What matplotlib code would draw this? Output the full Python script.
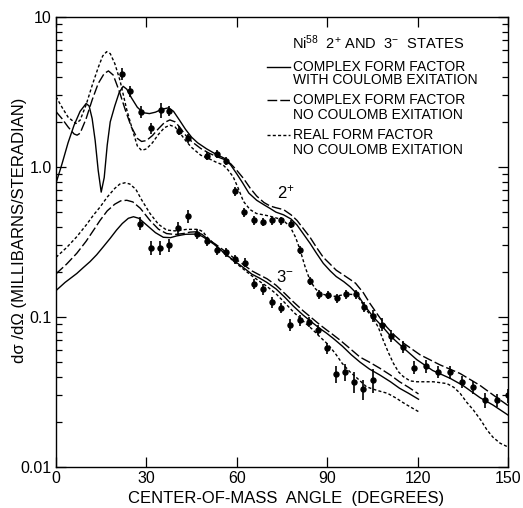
import matplotlib
matplotlib.use("Agg")
import matplotlib.pyplot as plt
from matplotlib.ticker import FixedLocator, FixedFormatter, LogLocator, NullFormatter

plt.rcParams['font.family'] = ['Liberation Sans', 'DejaVu Sans']
plt.rcParams['mathtext.fontset'] = 'custom'
plt.rcParams['mathtext.rm'] = 'Liberation Sans'
plt.rcParams['mathtext.it'] = 'Liberation Sans:italic'
plt.rcParams['mathtext.bf'] = 'Liberation Sans:bold'

# ---- measured cross sections (deg, mb/sr, fractional error) ----
ang_2p = [21.8, 24.6, 28.1, 31.4, 34.7, 37.6, 40.9, 43.9, 50.0, 53.3, 56.4, 59.4,
          62.5, 65.6, 68.7, 71.6, 74.7, 78.0, 81.0, 84.3, 87.4, 90.3, 93.2, 96.2,
          99.4, 102.3, 105.2, 108.3, 111.2, 115.0, 118.9, 122.8, 126.7, 130.8,
          134.6, 138.5, 142.4, 146.3, 150.0]
xs_2p = [4.2, 3.2, 2.34, 1.81, 2.40, 2.37, 1.75, 1.55, 1.18, 1.22, 1.10, 0.69,
         0.50, 0.44, 0.43, 0.44, 0.44, 0.42, 0.28, 0.175, 0.142, 0.14, 0.134, 0.142,
         0.142, 0.117, 0.102, 0.089, 0.075, 0.063, 0.046, 0.047, 0.043, 0.043,
         0.037, 0.034, 0.028, 0.028, 0.030]
err_2p = [0.09, 0.08, 0.09, 0.08, 0.12, 0.08, 0.07, 0.07, 0.06, 0.06, 0.06, 0.07,
          0.07, 0.07, 0.06, 0.06, 0.06, 0.06, 0.06, 0.06, 0.07, 0.06, 0.07, 0.07,
          0.07, 0.08, 0.09, 0.10, 0.09, 0.09, 0.10, 0.10, 0.09, 0.10,
          0.09, 0.10, 0.12, 0.10, 0.11]

ang_3m = [27.9, 31.4, 34.5, 37.6, 40.6, 43.7, 46.9, 50.0, 53.3, 56.4, 59.4, 62.6,
          65.6, 68.8, 71.6, 74.7, 77.8, 81.0, 84.0, 86.9, 89.9, 92.9, 95.9, 98.9,
          102.0, 105.1]
xs_3m = [0.42, 0.29, 0.29, 0.30, 0.39, 0.47, 0.36, 0.32, 0.28, 0.27, 0.243, 0.23,
         0.167, 0.153, 0.125, 0.115, 0.0885, 0.095, 0.093, 0.082, 0.062, 0.042,
         0.043, 0.037, 0.033, 0.038]
err_3m = [0.10, 0.10, 0.10, 0.10, 0.10, 0.10, 0.08, 0.07, 0.07, 0.07, 0.07, 0.07,
          0.08, 0.08, 0.08, 0.08, 0.09, 0.08, 0.08, 0.08, 0.09, 0.13, 0.13, 0.16,
          0.15, 0.18]

# ---- DWBA curves, 2+ state ----
th_2p_cc = [0, 2, 4, 6, 8, 10, 11, 12, 13, 14, 15, 16, 17, 18, 19.5, 21, 22.3, 23.5,
            25, 27, 29, 31, 33, 35, 37.3, 39, 41, 43, 45, 47, 50, 53, 56, 58, 60, 62,
            64, 66.6, 69, 71, 73, 75.5, 78, 80, 82, 84.3, 86.5, 88.7, 91, 93, 95.5,
            97.6, 100, 102.3, 105.3, 108.4, 111.2, 115, 119.7, 125, 130.8, 135,
            140.7, 145, 150]
cs_2p_cc = [0.78, 1.05, 1.45, 1.9, 2.35, 2.65, 2.55, 2.1, 1.5, 0.95, 0.68, 0.85, 1.4,
            2.0, 2.55, 3.15, 3.45, 3.3, 2.9, 2.5, 2.3, 2.27, 2.32, 2.42, 2.48, 2.35,
            2.05, 1.78, 1.58, 1.45, 1.32, 1.22, 1.14, 1.03, 0.9, 0.78, 0.67, 0.60,
            0.56, 0.53, 0.5, 0.48, 0.45, 0.41, 0.36, 0.31, 0.265, 0.228, 0.203,
            0.186, 0.172, 0.159, 0.142, 0.12, 0.10, 0.086, 0.074, 0.063, 0.052,
            0.044, 0.039, 0.035, 0.029, 0.0259, 0.0222]

th_2p_cn = [0, 2, 4, 6, 7, 8, 10, 12, 14, 16, 17.4, 19, 21, 23, 25, 27, 28.4, 30, 32,
            34, 36, 37.8, 39.5, 41, 43, 45, 48, 51, 54, 56, 58, 60, 62.2, 64.5, 66.6,
            69, 71, 73, 75.5, 78, 80, 82, 84.3, 86.5, 88.7, 91, 93, 95.5, 97.6, 99.4,
            102, 104.2, 107, 109.7, 112.5, 115.3, 120.8, 127.4, 134.1, 140.7, 146.3,
            150]
cs_2p_cn = [2.34, 2.1, 1.85, 1.66, 1.63, 1.68, 2.1, 2.8, 3.6, 4.2, 4.37, 4.1, 3.2,
            2.4, 1.85, 1.55, 1.48, 1.5, 1.62, 1.8, 1.98, 2.06, 2.0, 1.85, 1.63, 1.48,
            1.33, 1.23, 1.16, 1.12, 1.05, 0.95, 0.84, 0.72, 0.64, 0.58, 0.55, 0.535,
            0.52, 0.48, 0.44, 0.39, 0.34, 0.29, 0.25, 0.225, 0.205, 0.19, 0.178,
            0.168, 0.145, 0.123, 0.102, 0.086, 0.075, 0.067, 0.056, 0.048, 0.042,
            0.035, 0.029, 0.0257]

th_2p_rn = [0, 2, 4, 6.6, 8, 10, 12, 14, 15.5, 16.8, 18, 19.5, 21.2, 23.5, 25.7, 27,
            28.4, 30, 32, 34, 36, 37.8, 39.5, 41, 43, 45, 48, 51, 53, 55.5, 57, 58.8,
            60.5, 62.2, 64.4, 66.5, 68.8, 71, 74.3, 76, 77.7, 79.5, 81, 82.7, 84.3,
            86, 87.6, 90, 92, 94, 96.5, 99.4, 101, 102.3, 104, 105.3, 107, 108.6,
            110.3, 112, 113.7, 115.3, 117.5, 119.7, 125.2, 129.7, 132, 134.1, 136.3,
            138.5, 141, 143, 145, 147.4, 150]
cs_2p_rn = [2.94, 2.5, 2.15, 1.95, 2.05, 2.6, 3.5, 4.6, 5.5, 5.87, 5.7, 4.9, 3.8,
            2.4, 1.68, 1.38, 1.29, 1.32, 1.45, 1.65, 1.83, 1.9, 1.85, 1.7, 1.5, 1.35,
            1.2, 1.13, 1.08, 1.03, 0.96, 0.86, 0.72, 0.59, 0.52, 0.49, 0.48, 0.47,
            0.45, 0.43, 0.40, 0.34, 0.28, 0.215, 0.175, 0.155, 0.144, 0.139, 0.137,
            0.139, 0.142, 0.141, 0.13, 0.117, 0.105, 0.098, 0.085, 0.070, 0.058,
            0.049, 0.043, 0.040, 0.0375, 0.037, 0.037, 0.036, 0.034, 0.031, 0.027,
            0.024, 0.0205, 0.0177, 0.0158, 0.0144, 0.0136]

# ---- DWBA curves, 3- state ----
th_3m_cc = [0, 3, 6.9, 9, 11.3, 13.5, 15.7, 18, 20.1, 22, 24, 25.7, 27.5, 30.1, 33,
            35.6, 38, 40, 43, 46.7, 48.5, 50, 53, 56, 59, 62, 65, 67.7, 70, 73, 76,
            78.8, 82, 85, 87.5, 89.8, 92, 95, 98, 100.9, 104, 107.5, 111, 114, 117,
            120.3]
cs_3m_cc = [0.15, 0.17, 0.195, 0.213, 0.234, 0.26, 0.294, 0.335, 0.38, 0.42, 0.455,
            0.466, 0.455, 0.41, 0.365, 0.34, 0.338, 0.347, 0.356, 0.357, 0.345, 0.33,
            0.30, 0.265, 0.238, 0.215, 0.193, 0.181, 0.17, 0.154, 0.135, 0.118,
            0.103, 0.092, 0.084, 0.078, 0.072, 0.064, 0.056, 0.050, 0.045, 0.041,
            0.037, 0.0335, 0.031, 0.0283]

th_3m_cn = [0, 3.5, 6.9, 10, 12.5, 14.6, 17, 19.5, 21.5, 23.5, 25.5, 28, 31.2, 34,
            36.7, 39.5, 42.2, 44.5, 46.7, 48.5, 50, 53, 56, 59, 62, 65, 67.7, 70, 73,
            76, 78.8, 82, 85, 87.5, 89.8, 92, 94.3, 97, 100.9, 104, 107.5, 111, 114,
            117, 120.3]
cs_3m_cn = [0.194, 0.225, 0.266, 0.32, 0.38, 0.44, 0.51, 0.565, 0.595, 0.60, 0.585,
            0.53, 0.44, 0.385, 0.36, 0.355, 0.36, 0.368, 0.37, 0.355, 0.335, 0.305,
            0.275, 0.248, 0.225, 0.203, 0.19, 0.18, 0.163, 0.143, 0.126, 0.11,
            0.098, 0.089, 0.082, 0.076, 0.070, 0.063, 0.054, 0.050, 0.0455, 0.041,
            0.037, 0.034, 0.0307]

th_3m_rn = [0, 3.5, 6.9, 10, 12.5, 14.6, 17, 19.5, 21.2, 22.9, 24.5, 26.5, 28.5,
            31.2, 34, 36.7, 39.5, 43.4, 47.2, 48.8, 50, 53, 56, 59, 62, 65, 67.7, 70,
            73, 76, 78.8, 82, 85, 87.5, 89.8, 91, 93, 95, 97.6, 100, 103, 105.3,
            107.5, 110, 113, 115, 117.5, 120.3]
cs_3m_rn = [0.25, 0.29, 0.343, 0.41, 0.48, 0.54, 0.63, 0.72, 0.77, 0.785, 0.77, 0.71,
            0.6, 0.49, 0.415, 0.38, 0.375, 0.384, 0.384, 0.37, 0.343, 0.30, 0.265,
            0.235, 0.21, 0.188, 0.172, 0.16, 0.143, 0.124, 0.108, 0.094, 0.083,
            0.074, 0.067, 0.063, 0.056, 0.049, 0.043, 0.039, 0.0343, 0.033, 0.032,
            0.031, 0.0287, 0.027, 0.0252, 0.0234]

x_ticks = [0, 30, 60, 90, 120, 150]
x_labels = ["0", "30", "60", "90", "120", "150"]
y_ticks = [0.01, 0.1, 1.0, 10.0]
y_labels = ["0.01", "0.1", "1.0", "10"]

legend_text = [("COMPLEX FORM FACTOR", "WITH COULOMB EXITATION"),
               ("COMPLEX FORM FACTOR", "NO COULOMB EXITATION"),
               ("REAL FORM FACTOR", "NO COULOMB EXITATION")]

W, H = 523, 508
fig = plt.figure(figsize=(W / 100, H / 100), dpi=100)
ax = fig.add_axes([56 / W, 1 - 467 / H, 452 / W, 450 / H])
ax.set_yscale('log')
ax.set_xlim(0, 150)
ax.set_ylim(0.01, 10)

styles = {
    'cc': dict(color='black', lw=1.0, ls='-'),
    'cn': dict(color='black', lw=1.0, ls=(0, (7, 2.2))),
    'rn': dict(color='black', lw=1.0, ls=(0, (2.2, 1.6))),
}

ax.plot(th_2p_cc, cs_2p_cc, **styles['cc'])
ax.plot(th_2p_cn, cs_2p_cn, **styles['cn'])
ax.plot(th_2p_rn, cs_2p_rn, **styles['rn'])
ax.plot(th_3m_cc, cs_3m_cc, **styles['cc'])
ax.plot(th_3m_cn, cs_3m_cn, **styles['cn'])
ax.plot(th_3m_rn, cs_3m_rn, **styles['rn'])

for a, v, e in ((ang_2p, xs_2p, err_2p), (ang_3m, xs_3m, err_3m)):
    yerr = [vi * ei for vi, ei in zip(v, e)]
    ax.errorbar(a, v, yerr=yerr, fmt='o', color='black', ms=3.6, elinewidth=1.2,
                capsize=0)

# axes, ticks
for s in ax.spines.values():
    s.set_linewidth(1.0)
ax.xaxis.set_major_locator(FixedLocator(x_ticks))
ax.xaxis.set_major_formatter(FixedFormatter(x_labels))
ax.yaxis.set_major_locator(FixedLocator(y_ticks))
ax.yaxis.set_major_formatter(FixedFormatter(y_labels))
ax.yaxis.set_minor_locator(LogLocator(base=10, subs=range(2, 10)))
ax.yaxis.set_minor_formatter(NullFormatter())
ax.tick_params(which='both', direction='in', top=True, right=True, width=0.9)
ax.tick_params(which='major', length=7, labelsize=11.5)
ax.tick_params(which='minor', length=4)
ax.tick_params(axis='x', pad=3)
ax.tick_params(axis='y', pad=3)

# axis titles placed in figure pixels
fig.text(286 / W, 1 - 499 / H, "CENTER-OF-MASS  ANGLE  (DEGREES)", fontsize=12,
         ha='center', va='center')
fig.text(20 / W, 1 - 230 / H, "dσ /dΩ (MILLIBARNS/STERADIAN)", fontsize=12,
         ha='center', va='center', rotation=90)


def axpos(px, py):
    return (px - 56) / 452, (467 - py) / 450


# title block and key
tx, ty = axpos(292, 43)
ax.text(tx, ty, r"Ni$^{58}$  2$^{+}$ AND  3$^{-}$  STATES", transform=ax.transAxes,
        fontsize=10.5, va='center', ha='left')
key_y = [(67, 80), (100, 115), (135, 150)]
for (l1, l2), (y1, y2), key in zip(legend_text, key_y, ['cc', 'cn', 'rn']):
    x0, yy = axpos(267, y1)
    x1, _ = axpos(290, y1)
    ax.plot([x0, x1], [yy, yy], transform=ax.transAxes, clip_on=False, **styles[key])
    lx, _ = axpos(293, y1)
    ax.text(lx, yy, l1, transform=ax.transAxes, fontsize=10, va='center', ha='left')
    _, yy2 = axpos(293, y2)
    ax.text(lx, yy2, l2, transform=ax.transAxes, fontsize=10, va='center', ha='left')

lx, ly = axpos(277, 192)
ax.text(lx, ly, r"2$^{+}$", transform=ax.transAxes, fontsize=12, va='center', ha='left')
lx, ly = axpos(276, 277)
ax.text(lx, ly, r"3$^{-}$", transform=ax.transAxes, fontsize=12, va='center', ha='left')

fig.savefig("out.png", dpi=100)
